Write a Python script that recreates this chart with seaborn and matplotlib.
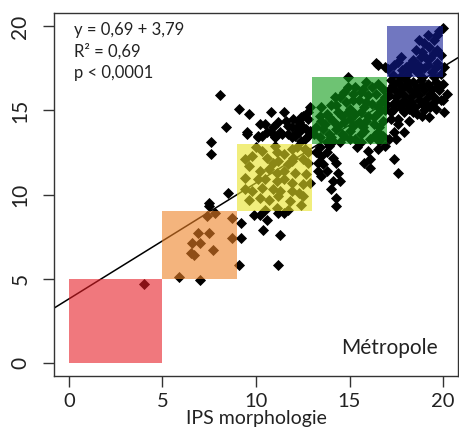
import matplotlib
matplotlib.use("Agg")
import matplotlib.pyplot as plt
from matplotlib.patches import Rectangle
import seaborn as sns

# IPS morphologie (x) vs second IPS score (y)
ips_x = [
    # sparse low / orange zone
    4.0, 5.9, 7.0, 6.5, 6.7, 7.7, 6.6, 7.0, 6.9, 7.5, 8.7, 9.2, 9.1, 8.7, 9.2,
    7.4, 7.8, 7.5, 7.5, 8.5, 11.2, 10.4, 11.3, 10.6, 9.9, 10.2, 11.2, 11.5, 14.3,
    # upper-left sparse
    8.1, 8.4, 7.6, 7.6, 9.1, 9.6, 10.8, 11.5, 11.2, 10.2, 10.5, 9.5, 10.8, 11.3,
    11.9, 12.2, 12.5, 12.2, 10.1, 12.8, 12.9, 12.8, 11.7, 12.1, 10.3, 11.0, 12.6,
    12.9, 11.6, 12.4, 12.5, 12.3, 12.0, 12.7, 12.4, 11.7, 13.1, 10.9,
    # above yellow
    9.5, 10.1, 10.6, 11.0, 11.4, 11.9, 12.3, 12.8,
    # yellow zone
    10.0, 11.1, 11.5, 11.9, 12.2, 12.6, 12.8, 10.6, 10.9, 11.2, 11.7, 11.9, 12.5,
    12.8, 9.6, 10.2, 10.7, 11.1, 11.5, 12.1, 12.7, 12.9, 9.4, 10.1, 10.5, 11.1,
    11.5, 11.9, 12.5, 9.4, 9.8, 10.3, 10.9, 11.3, 11.9, 12.3, 9.6, 10.2, 10.7,
    11.2, 11.8, 12.5, 12.4, 10.5, 11.1, 11.7, 9.8, 10.3, 11.0, 12.0, 9.4,
    # right of yellow
    13.4, 13.8, 13.5, 14.1, 13.6, 14.3, 13.8, 14.4, 13.5, 14.1, 14.5, 14.0, 14.3,
    15.4, 16.0, 16.1, 15.8, 16.1, 16.5, 16.9, 17.4, 17.6, 17.1, 17.4,
    13.2, 13.3, 13.9, 13.3,
    # green zone
    14.9, 15.3, 15.7, 14.9, 14.7, 14.2, 15.2, 16.0, 16.4, 16.8, 15.5, 14.8, 14.0,
    13.5, 16.2, 16.7, 15.0, 15.8, 13.8, 14.4, 15.3, 16.0, 16.6, 13.5, 14.1, 14.7,
    15.5, 16.3, 16.8, 13.6, 14.3, 15.0, 15.8, 16.5, 13.4, 14.0, 14.7, 15.3, 16.1,
    16.8, 13.8, 14.5, 15.6, 15.2, 15.9, 14.6, 13.2, 16.5, 15.9,
    13.9, 14.6, 15.6, 16.3, 13.7, 14.4, 15.0, 15.7, 16.6, 13.9, 14.9, 15.6, 16.3,
    14.3, 15.2, 15.9, 16.5, 14.5, 15.6, 16.2, 14.1, 15.0, 16.6, 13.4, 16.9, 16.9,
    # right of green
    17.2, 17.6, 18.0, 18.4, 18.8, 19.2, 19.6, 17.4, 17.8, 18.2, 18.6, 19.0, 19.4,
    19.8, 17.1, 17.5, 17.9, 18.3, 18.7, 19.1, 19.5, 19.9, 17.3, 17.7, 18.1, 18.5,
    18.9, 19.3, 17.2, 17.9, 18.4, 19.25, 20.05, 17.9, 17.5, 17.6, 18.2, 16.5,
    16.9, 16.4, 17.05, 20.2, 20.0,
    17.3, 17.7, 18.1, 18.5, 18.9, 19.3, 19.7, 17.5, 17.9, 18.3, 18.7, 19.1, 19.5,
    17.4, 17.8, 18.2, 18.6, 19.0, 17.2, 17.6, 18.9, 19.6, 20.0, 17.1, 17.0,
    # blue zone
    20.0, 19.7, 19.2, 18.7, 19.5, 19.25, 19.7, 18.55, 18.8, 19.1, 17.75, 17.6,
    18.3, 18.65, 19.7, 20.05, 17.4, 17.8, 18.2, 18.6, 19.0, 19.4, 19.9, 17.3,
    17.7, 18.1, 18.9, 19.5, 19.3, 19.9,
    18.0, 18.4, 18.8, 19.2, 19.6, 18.9, 19.5, 19.0, 19.8, 18.4,
]
ips_y = [
    4.7, 5.1, 4.9, 6.5, 6.4, 6.7, 7.1, 7.1, 7.7, 7.7, 7.4, 7.4, 5.8, 8.6, 8.3,
    8.7, 8.9, 9.3, 9.5, 10.1, 5.8, 7.9, 7.6, 8.5, 8.8, 8.8, 8.9, 8.9, 9.3,
    15.9, 14.0, 13.1, 12.4, 15.1, 14.8, 14.9, 14.9, 14.3, 14.2, 14.2, 13.7, 13.7,
    13.7, 14.0, 14.0, 14.0, 13.7, 13.4, 14.5, 15.2, 14.9, 13.6, 13.5, 13.5, 13.4,
    13.3, 13.8, 14.4, 14.6, 14.7, 14.3, 14.5, 13.9, 13.2, 14.1, 13.6, 14.0,
    13.6, 13.5, 13.7, 13.4, 13.6, 13.4, 13.7, 13.5,
    12.8, 12.5, 12.4, 12.7, 12.8, 12.7, 12.5, 12.2, 11.9, 12.0, 11.8, 12.0, 12.1,
    11.9, 11.7, 11.4, 11.5, 11.3, 11.4, 11.3, 11.2, 10.7, 11.0, 10.9, 10.9, 10.8,
    10.9, 10.7, 10.6, 10.3, 10.2, 10.4, 10.3, 10.2, 10.2, 10.1, 9.7, 9.8, 9.7,
    9.9, 9.6, 9.9, 9.4, 9.1, 9.2, 9.1, 12.3, 12.6, 12.9, 12.2, 12.1,
    12.8, 12.5, 12.3, 12.2, 11.8, 11.9, 11.4, 11.3, 11.1, 10.8, 10.8, 10.3, 9.8,
    12.8, 12.6, 12.1, 11.9, 11.6, 12.7, 12.9, 12.1, 11.3, 13.3, 13.7,
    12.5, 11.9, 12.9, 11.4,
    17.0, 16.4, 16.3, 16.4, 16.1, 15.8, 16.0, 15.9, 16.0, 16.3, 15.6, 15.5, 15.3,
    15.2, 15.4, 15.5, 15.1, 15.2, 14.8, 14.9, 14.8, 14.7, 14.9, 14.4, 14.4, 14.3,
    14.3, 14.2, 14.4, 13.9, 13.9, 13.8, 13.8, 13.7, 13.4, 13.4, 13.5, 13.3, 13.3,
    13.5, 13.1, 13.1, 13.1, 14.1, 14.4, 14.7, 14.0, 16.6, 16.7,
    13.6, 13.6, 13.6, 13.5, 14.2, 14.1, 14.5, 14.0, 14.0, 14.6, 14.9, 14.9, 14.6,
    15.3, 15.6, 15.5, 15.2, 15.8, 16.1, 16.4, 13.2, 13.3, 13.2, 14.7, 15.0, 15.8,
    16.8, 16.7, 16.8, 16.7, 16.8, 16.6, 16.7, 16.3, 16.4, 16.3, 16.4, 16.2, 16.3,
    16.2, 15.9, 15.8, 15.9, 15.8, 15.9, 15.7, 15.8, 15.6, 15.4, 15.3, 15.4, 15.2,
    15.4, 15.2, 14.9, 14.9, 14.9, 14.6, 14.9, 13.7, 13.3, 14.5, 14.4, 17.7,
    17.6, 17.85, 17.45, 16.0, 16.6,
    16.5, 16.1, 16.6, 16.1, 16.5, 16.0, 16.4, 15.5, 15.6, 15.5, 15.6, 15.4, 15.5,
    15.1, 15.1, 15.1, 14.8, 15.0, 14.5, 14.2, 14.7, 15.1, 15.6, 16.2, 15.3,
    19.9, 19.5, 19.5, 19.2, 19.2, 18.8, 18.6, 18.6, 18.2, 18.15, 18.2, 17.9,
    17.85, 17.7, 17.85, 17.6, 17.7, 17.4, 17.4, 17.3, 17.5, 17.3, 17.2, 17.1,
    17.0, 17.1, 17.0, 17.0, 18.1, 18.3,
    17.6, 17.6, 17.5, 17.7, 17.6, 18.5, 18.4, 19.0, 19.7, 18.0,
]

# score classes shown as coloured squares
class_lo = [0, 5, 9, 13, 17]
class_hi = [5, 9, 13, 17, 20]
class_colors = ["#E61E26", "#EE8226", "#E9E326", "#0D9B16", "#121C96"]

# regression fit printed on the chart
intercept = 3.79
slope = 0.69

sns.set_style("ticks")
plt.rcParams["font.family"] = ["Lato", "DejaVu Sans"]

fig = plt.figure(figsize=(4.59, 4.32), dpi=100)
ax = fig.add_axes([0.1176, 0.1296, 0.8802, 0.8403])

sns.scatterplot(x=ips_x, y=ips_y, marker="D", color="black", s=32,
                linewidth=0, ax=ax, zorder=2)
ax.axline((0, intercept), slope=slope, color="black", lw=1.1, zorder=2.5)

for lo, hi, c in zip(class_lo, class_hi, class_colors):
    ax.add_patch(Rectangle((lo, lo), hi - lo, hi - lo, facecolor=c,
                           edgecolor="none", alpha=0.6, zorder=3))

ax.set_xlim(-0.8, 20.8)
ax.set_ylim(-0.8, 20.8)
ax.set_xticks([0, 5, 10, 15, 20])
ax.set_yticks([0, 5, 10, 15, 20])
ax.tick_params(axis="both", labelsize=15, length=8, width=1.0,
               color="#333333", labelcolor="#222222")
ax.tick_params(axis="x", pad=4, labelsize=14.5)
ax.tick_params(axis="y", pad=9)
for lab in ax.get_yticklabels():
    lab.set_rotation(90)
    lab.set_va("center")

for sp in ax.spines.values():
    sp.set_visible(True)
    sp.set_linewidth(1.0)
    sp.set_color("#333333")
    sp.set_zorder(5)

ax.set_xlabel("IPS morphologie", fontsize=14, labelpad=0, color="#222222")

ax.text(0.05, 0.975, "y = 0,69 + 3,79\nR² = 0,69\np < 0,0001",
        transform=ax.transAxes, ha="left", va="top", fontsize=12,
        linespacing=1.4, color="#222222")
ax.text(0.95, 0.05, "Métropole", transform=ax.transAxes, ha="right",
        va="bottom", fontsize=15, color="#222222")

fig.savefig("out.png", dpi=100)
